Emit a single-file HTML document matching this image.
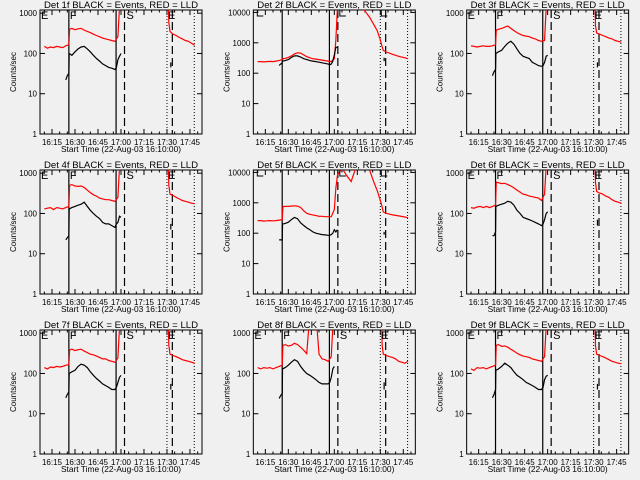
<!DOCTYPE html>
<html><head><meta charset="utf-8"><style>
html,body{margin:0;padding:0;background:#f0f0f0;}
svg{display:block;font-family:"Liberation Sans",sans-serif;}
</style></head><body>
<svg id="chart" width="640" height="480" viewBox="0 0 640 480" xmlns="http://www.w3.org/2000/svg">
<rect width="640" height="480" fill="#f0f0f0"/>
</svg>
<script>
// ---------- data ----------
const detLabels = ["1f","2f","3f","4f","5f","6f","7f","8f","9f"];
const bigPanel = [false,true,false,false,true,false,false,false,false];
const xTickLabels = ["16:15","16:30","16:45","17:00","17:15","17:30","17:45"];
const xTickMinutes = [5,20,35,50,65,80,95];
// times in minutes after 16:10
const tRedA = [0,2,4,6,8,10,12,14,16,16.5,18,20,22,24,26,28,30,32,34,36,38,40,42,44,46,48,49.5];
const tBlackA = [14,15,16,16.2,18,20,22,24,26,28,30,32,34,36,38,40,42,44,46,47,48,49,50];
const tRedB = [80.8,81.2,82,84,86,88,90,92,94,96,98];
const tRedBig = [0,2,4,6,8,10,12,14,16,16.5,18,20,22,24,26,28,30,32,34,36,38,40,42,44,46,48,50,51,52,55,58,61,64,67,70,73,76,78,80,81,82,84,88,92,96,98];
const tBlackBig = [14,15,16,16.2,18,20,22,24,26,28,30,32,34,36,38,40,42,44,46,47,48,49,50,51,52];
const redA = {
 1:[150,135,145,140,150,145,140,155,165,400,420,390,410,420,380,350,330,300,280,260,240,230,220,210,200,260,3000],
 3:[155,150,145,150,155,150,150,155,165,380,400,420,450,480,420,370,330,300,280,270,260,240,230,210,200,210,3000],
 4:[130,135,140,125,140,135,130,140,150,500,520,480,470,480,440,380,330,290,270,240,230,220,220,210,200,250,3000],
 6:[140,135,145,150,140,150,140,150,160,600,580,550,560,520,480,430,380,340,300,290,270,260,250,240,210,300,3000],
 7:[140,130,145,140,150,145,150,160,165,380,400,370,390,400,360,330,300,290,270,250,230,230,210,200,190,240,3000],
 8:[140,130,140,135,140,130,140,150,160,500,520,480,500,560,520,450,380,310,3000,3000,3000,300,230,220,200,260,3000],
 9:[130,120,140,135,140,130,140,150,160,500,520,470,480,450,400,360,320,290,270,260,250,230,220,210,200,260,3000]
};
const blackA = {
 1:[22,28,32,100,90,110,130,145,150,130,110,90,75,65,55,50,45,43,40,45,70,85,100],
 3:[28,35,40,100,110,120,150,180,200,170,130,100,85,80,75,60,55,50,48,50,60,85,90],
 4:[22,25,28,130,140,150,160,170,190,150,120,100,85,75,60,55,55,50,45,55,60,85,80],
 6:[28,28,35,150,160,170,180,200,190,160,120,100,80,75,70,65,60,55,50,55,70,100,110],
 7:[25,30,35,100,110,120,150,170,160,140,110,90,75,65,55,50,45,40,40,45,60,80,90],
 8:[24,28,32,130,140,160,190,220,200,150,120,100,90,80,70,60,55,55,55,60,80,130,150],
 9:[25,30,40,120,130,150,180,160,140,110,90,80,70,60,55,50,45,40,40,45,70,85,90]
};
const redB = {
 1:[3000,600,350,300,280,250,230,210,200,180,160],
 3:[3000,500,320,300,280,260,240,230,210,200,190],
 4:[3000,500,300,280,250,230,210,200,190,180,175],
 6:[3000,600,350,320,300,270,250,220,200,190,180],
 7:[3000,500,300,280,260,240,220,210,200,190,180],
 8:[3000,500,300,280,260,250,230,200,190,180,200],
 9:[3000,500,300,280,260,240,220,200,190,180,175]
};
const redBig = {
 2:[240,240,235,240,245,240,250,260,280,300,310,330,370,430,470,460,400,350,320,300,290,280,270,260,250,240,300,1200,14000,20000,20000,20000,20000,20000,11000,7000,3800,2500,1250,800,560,500,420,360,320,300],
 5:[260,260,250,255,260,255,260,270,280,750,760,760,780,800,780,700,550,450,420,400,380,360,360,350,350,350,600,3000,8000,14000,8000,5000,14000,20000,20000,12000,4500,2500,1200,800,500,450,400,370,340,320]
};
const blackBig = {
 2:[180,200,220,250,260,280,330,370,370,340,300,280,260,250,240,230,220,210,200,190,200,250,400,700,720],
 5:[60,60,60,200,210,230,280,330,300,220,180,150,130,110,100,95,90,88,85,85,90,100,130,110,130]
};
const blackB = {1:[45,60],2:[250,320],3:[45,60],4:[40,55],5:[90,110],6:[50,70],7:[40,55],8:[40,60],9:[40,55]};
const tBlackB = 82.5;
const solidLines = [16,46.8];
const dashedLines = [52.3,83.5];
const dottedLines = [80,97.8];

// ---------- drawing ----------
const NS = "http://www.w3.org/2000/svg";
const svg = document.getElementById("chart");
const PL = 40, PR = 202, PT = 10, PB = 134;
function xOf(m){ return 52 + (m-5)*1.533; }
function yOf(v,big){ const lm = big ? Math.log10(12000) : Math.log10(1200); return PB - Math.log10(v)/lm*(PB-PT); }
function mk(tag, attrs, parent){ const e=document.createElementNS(NS,tag); for(const k in attrs) e.setAttribute(k,attrs[k]); parent.appendChild(e); return e; }
function poly(ts, vs, big, color, parent, name){
  const pts = ts.map((t,i)=>xOf(t).toFixed(1)+","+yOf(vs[i],big).toFixed(1)).join(" ");
  const p = mk("polyline",{points:pts,fill:"none",stroke:color,"stroke-width":1.2,"clip-path":parent._clip},parent);
  
  
  return p;
}

for(let i=0;i<9;i++){
  const det = i+1, big = bigPanel[i];
  const col = i%3, row = Math.floor(i/3);
  const g = mk("g",{transform:"translate("+(col*213.33).toFixed(2)+","+(row*160)+")"},svg);
  
  
  const cp = mk("clipPath",{id:"clip"+det},g);
  mk("rect",{x:PL,y:PT,width:PR-PL,height:PB-PT},cp);
  g._clip = "url(#clip"+det+")";

  const title = mk("text",{x:121,y:8,"font-size":"9.6","text-anchor":"middle",fill:"#000"},g);
  title.textContent = "Det "+detLabels[i]+" BLACK = Events, RED = LLD";
  
  

  const yl = mk("text",{x:0,y:0,"font-size":"8","text-anchor":"middle",transform:"translate(16,72) rotate(-90)"},g);
  yl.textContent = "Counts/sec";
  
  

  const xl = mk("text",{x:121,y:152,"font-size":"8.4","text-anchor":"middle"},g);
  xl.textContent = "Start Time (22-Aug-03 16:10:00)";
  
  

  // frame
  const fr = mk("rect",{x:PL,y:PT,width:PR-PL,height:PB-PT,fill:"none",stroke:"#000","stroke-width":1},g);
  
  

  // y ticks
  const decades = big ? [0,1,2,3,4] : [0,1,2,3];
  decades.forEach(d=>{
    const y = yOf(Math.pow(10,d),big);
    mk("line",{x1:PL,x2:PL+5,y1:y,y2:y,stroke:"#000"},g);
    mk("line",{x1:PR-5,x2:PR,y1:y,y2:y,stroke:"#000"},g);
    const t = mk("text",{x:37,y:y+3,"font-size":"8","text-anchor":"end"},g);
    t.textContent = String(Math.pow(10,d));
    
    
  });
  // x ticks
  for(let m=0;m<=100;m+=5){
    const x = xOf(m); if(x<PL||x>PR) continue;
    const major = xTickMinutes.indexOf(m)>=0;
    const L = major?5:2.5;
    mk("line",{x1:x,x2:x,y1:PB,y2:PB-L,stroke:"#000"},g);
    mk("line",{x1:x,x2:x,y1:PT,y2:PT+L,stroke:"#000"},g);
  }
  xTickLabels.forEach((lab,k)=>{
    const t = mk("text",{x:xOf(xTickMinutes[k]),y:145,"font-size":"8","text-anchor":"middle"},g);
    t.textContent = lab;
    
    
  });

  // vertical markers
  solidLines.forEach(m=>{ const l=mk("line",{x1:xOf(m),x2:xOf(m),y1:PT,y2:PB,stroke:"#000","stroke-width":1.2},g);   });
  dashedLines.forEach(m=>{ const l=mk("line",{x1:xOf(m),x2:xOf(m),y1:PT,y2:PB,stroke:"#000","stroke-width":1.2,"stroke-dasharray":"8,4"},g);   });
  dottedLines.forEach(m=>{ const l=mk("line",{x1:xOf(m),x2:xOf(m),y1:PT,y2:PB,stroke:"#000","stroke-width":1,"stroke-dasharray":"1,2"},g);   });

  // series
  if(big){
    poly(tRedBig, redBig[det], big, "#ff0000", g, "red-lld-series");
    poly(tBlackBig, blackBig[det], big, "#000", g, "black-events-series");
    [[PL+4,0],[xOf(52.3)+2,0],[xOf(80)+1,0]].forEach(b=>{
      const p=mk("path",{d:"M"+b[0]+","+(PT)+" v6 h6",fill:"none",stroke:"#000"},g);
       
    });
  } else {
    poly(tRedA, redA[det], big, "#ff0000", g, "red-lld-series");
    poly(tRedB, redB[det], big, "#ff0000", g, "red-lld-series-late");
    poly(tBlackA, blackA[det], big, "#000", g, "black-events-series");
    const lets = [["E",PL+1],["F",xOf(16)+1],["S",xOf(52.3)+2],["E",xOf(80)+1]];
    lets.forEach(a=>{
      const t = mk("text",{x:a[1],y:19,"font-size":"11"},g);
      t.textContent = a[0];
      
      
    });
  }
  poly([tBlackB,tBlackB], blackB[det], big, "#000", g, "black-events-late");
}
</script>
</body></html>
